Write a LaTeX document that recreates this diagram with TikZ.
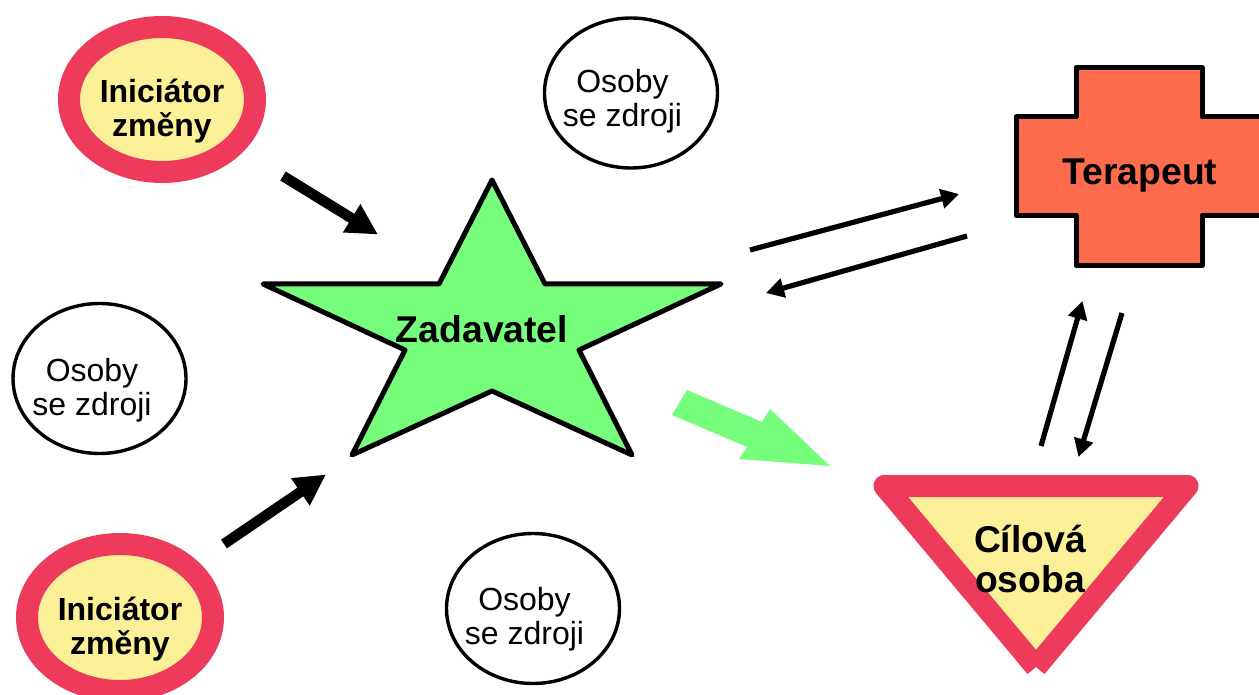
\documentclass[tikz,border=0pt]{standalone}
\usepackage{fontspec}
\setmainfont{Liberation Sans}
\usetikzlibrary{arrows.meta,shapes.geometric}
\definecolor{rosered}{HTML}{EE3A5B}
\definecolor{softyellow}{HTML}{FBEF97}
\definecolor{brightgreen}{HTML}{76FD7C}
\definecolor{coral}{HTML}{FF6B4D}
\tikzset{
  x=1pt,y=-1pt,
  resource/.style={draw=black,line width=3.4pt,fill=white,ellipse,inner sep=0pt,minimum width=173pt,minimum height=150pt},
  initiator/.style={draw=rosered,line width=22pt,fill=softyellow,ellipse,inner sep=0pt,minimum width=186pt,minimum height=145pt},
  restext/.style={font=\fontsize{32}{34}\selectfont,align=center,inner sep=0pt},
  inittext/.style={font=\fontsize{32}{34}\selectfont\bfseries,align=center,inner sep=0pt},
  biglabel/.style={font=\fontsize{37.3}{40}\selectfont\bfseries,align=center,inner sep=0pt},
  heavyarrow/.style={line width=10.5pt,-{Triangle[width=31pt,length=31pt]}},
  thinarrow/.style={line width=5.2pt,-{Triangle[width=19pt,length=18pt]}},
}
\begin{document}
\begin{tikzpicture}
\useasboundingbox (0,0) rectangle (1259,695);
% star
\filldraw[fill=brightgreen,draw=black,line width=5pt,line join=round]
  (492,180)--(545,284)--(721,284)--(579,350)--(632,455)--(492,391)--(352,455)--(405,350)--(263,284)--(439,284)--cycle;
\node[biglabel] (zadavatel) at (482,329) {Zadavatel};
% cross
\filldraw[fill=coral,draw=black,line width=5pt,line join=round]
  (1076,67.5)--(1202,67.5)--(1202,117)--(1264,117)--(1264,215.5)--(1202,215.5)--(1202,265.5)--(1076,265.5)--(1076,215.5)--(1016,215.5)--(1016,117)--(1076,117)--cycle;
\node[biglabel] (terapeut) at (1140,176) {Terapeut};
% triangle
\fill[softyellow] (884.5,486)--(1187.5,486)--(1036,667)--cycle;
\draw[rosered,line width=22pt,line join=round,line cap=butt]
  (1036,667)--(1187.5,486)--(884.5,486)--(1036,667);
\node[biglabel] (cilova) at (1030,559) {Cílová\\osoba};
% initiators
\node[initiator] (initA) at (162,99.5) {};
\node[inittext] (initAtext) at (162,111.5) {Iniciátor\\změny};
\node[initiator,minimum height=147pt] (initB) at (120,617.5) {};
\node[inittext] (initBtext) at (120,629) {Iniciátor\\změny};
% resources
\node[resource] (resA) at (631,93) {};
\node[restext] (resAtext) at (622.5,101) {Osoby\\se zdroji};
\node[resource] (resB) at (99.5,378.5) {};
\node[restext] (resBtext) at (92,390.5) {Osoby\\se zdroji};
\node[resource] (resC) at (533,608.5) {};
\node[restext] (resCtext) at (524.5,619) {Osoby\\se zdroji};
% arrow ends
\coordinate (a1s) at (283,176);
\coordinate (a1e) at (378,234.5);
\coordinate (a2s) at (224,544);
\coordinate (a2e) at (326,474.5);
\coordinate (t1s) at (750,250);
\coordinate (t1e) at (959,194);
\coordinate (t2s) at (967,236);
\coordinate (t2e) at (766,293);
\coordinate (t3s) at (1041,446);
\coordinate (t3e) at (1082.5,301);
\coordinate (t4s) at (1122,313);
\coordinate (t4e) at (1078.5,457);
\draw[heavyarrow] (a1s)--(a1e);
\draw[heavyarrow] (a2s)--(a2e);
% skewed green block arrow
\fill[brightgreen] (687,390)--(762,422)--(770,409)--(830,466)--(739,459)--(747,447)--(672,415)--cycle;
\draw[thinarrow] (t1s)--(t1e);
\draw[thinarrow] (t2s)--(t2e);
\draw[thinarrow] (t3s)--(t3e);
\draw[thinarrow] (t4s)--(t4e);
\end{tikzpicture}
\end{document}
